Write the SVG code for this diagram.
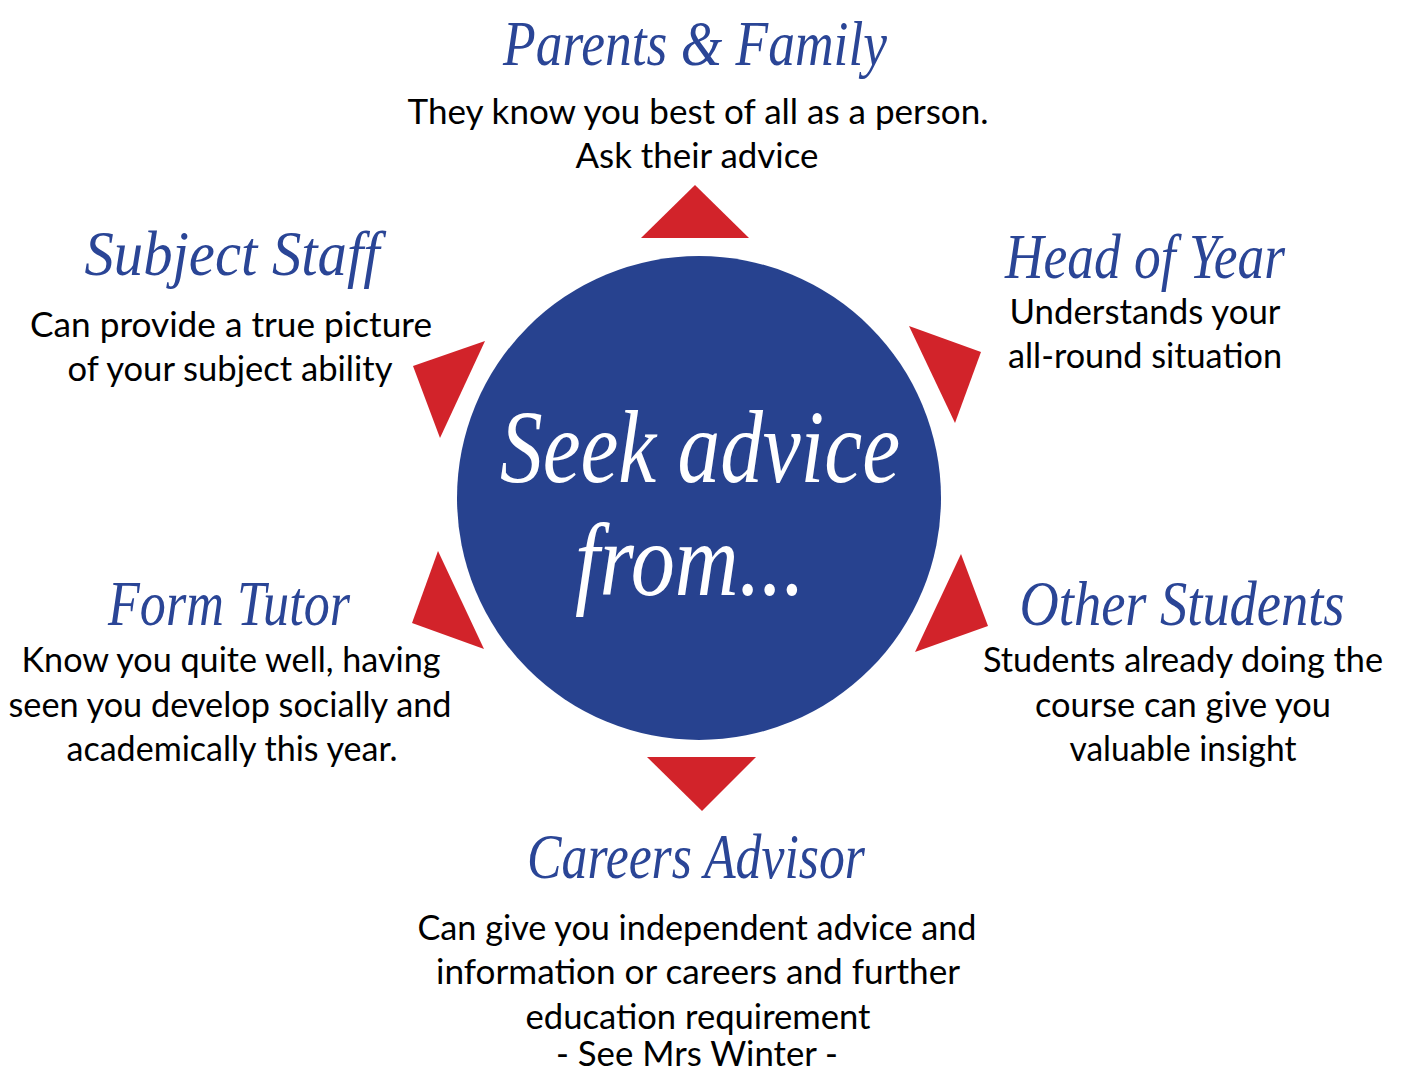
<svg xmlns="http://www.w3.org/2000/svg" width="1402" height="1075" viewBox="0 0 1402 1075">
<style>
.t{font-family:"Liberation Serif","DejaVu Serif",serif;font-style:italic;fill:#2a4596;font-size:64px;text-anchor:middle}
.b{font-family:Lato,"Open Sans","Liberation Sans",sans-serif;fill:#000;font-size:34px;text-anchor:middle}
.w{font-family:"Liberation Serif","DejaVu Serif",serif;font-style:italic;fill:#fff;font-size:104px;text-anchor:middle}
.tri{fill:#d2232a}
</style>
<rect width="1402" height="1075" fill="#fff"/>
<g id="center">
<circle cx="699" cy="498" r="242" fill="#27428f"/>
<text class="w" x="700" y="482" textLength="400" lengthAdjust="spacingAndGlyphs">Seek advice</text>
<text class="w" x="690" y="595" textLength="230" lengthAdjust="spacingAndGlyphs">from...</text>
</g>
<g id="connectors">
<polygon class="tri" points="695,185 641,238 749,238"/>
<polygon class="tri" points="647,757 756,757 702,811"/>
<polygon class="tri" points="413,366 485,341 440,438"/>
<polygon class="tri" points="909,326 981,352 955,423"/>
<polygon class="tri" points="438,551 412,623 484,649"/>
<polygon class="tri" points="961,554 988,626 915,652"/>
</g>
<g id="parents">
<text class="t" x="695" y="65" textLength="384" lengthAdjust="spacingAndGlyphs">Parents &amp; Family</text>
<text class="b" x="698" y="124" textLength="581" lengthAdjust="spacingAndGlyphs">They know you best of all as a person.</text>
<text class="b" x="697" y="168" textLength="243" lengthAdjust="spacingAndGlyphs">Ask their advice</text>
</g>
<g id="subject">
<text class="t" x="232" y="275" textLength="295" lengthAdjust="spacingAndGlyphs">Subject Staff</text>
<text class="b" x="231" y="337" textLength="402" lengthAdjust="spacingAndGlyphs">Can provide a true picture</text>
<text class="b" x="230" y="381" textLength="325" lengthAdjust="spacingAndGlyphs">of your subject ability</text>
</g>
<g id="headofyear">
<text class="t" x="1145" y="278" textLength="280" lengthAdjust="spacingAndGlyphs">Head of Year</text>
<text class="b" x="1145" y="324" textLength="271" lengthAdjust="spacingAndGlyphs">Understands your</text>
<text class="b" x="1145" y="368" textLength="274" lengthAdjust="spacingAndGlyphs">all-round situation</text>
</g>
<g id="formtutor">
<text class="t" x="229" y="625" textLength="242" lengthAdjust="spacingAndGlyphs">Form Tutor</text>
<text class="b" x="231" y="672" textLength="419" lengthAdjust="spacingAndGlyphs">Know you quite well, having</text>
<text class="b" x="230" y="717" textLength="443" lengthAdjust="spacingAndGlyphs">seen you develop socially and</text>
<text class="b" x="232" y="761" textLength="331" lengthAdjust="spacingAndGlyphs">academically this year.</text>
</g>
<g id="otherstudents">
<text class="t" x="1182" y="625" textLength="325" lengthAdjust="spacingAndGlyphs">Other Students</text>
<text class="b" x="1183" y="672" textLength="400" lengthAdjust="spacingAndGlyphs">Students already doing the</text>
<text class="b" x="1183" y="717" textLength="296" lengthAdjust="spacingAndGlyphs">course can give you</text>
<text class="b" x="1183" y="761" textLength="227" lengthAdjust="spacingAndGlyphs">valuable insight</text>
</g>
<g id="careers">
<text class="t" x="696" y="878" textLength="338" lengthAdjust="spacingAndGlyphs">Careers Advisor</text>
<text class="b" x="697" y="940" textLength="559" lengthAdjust="spacingAndGlyphs">Can give you independent advice and</text>
<text class="b" x="698" y="984" textLength="524" lengthAdjust="spacingAndGlyphs">information or careers and further</text>
<text class="b" x="698" y="1029" textLength="345" lengthAdjust="spacingAndGlyphs">education requirement</text>
<text class="b" x="697" y="1066" font-size="33" textLength="282" lengthAdjust="spacingAndGlyphs">- See Mrs Winter -</text>
</g>
</svg>
